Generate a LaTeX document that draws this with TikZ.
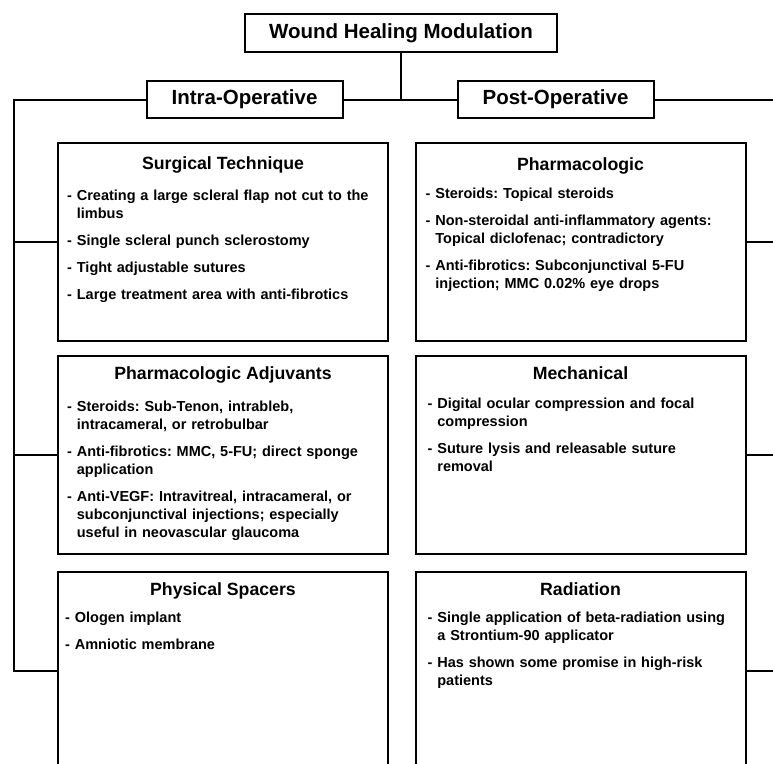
\documentclass[tikz,border=0pt]{standalone}
\usepackage{fontspec}
\setmainfont{Liberation Sans}
\usetikzlibrary{positioning}
\frenchspacing

\newlength{\dashwd}
\newcommand{\itm}[1]{\settowidth{\dashwd}{-~}\hangindent=\dashwd\hangafter=1\noindent-~#1\par}

\begin{document}
\begin{tikzpicture}[x=1pt,y=-1pt,
  top node/.style={draw,line width=2pt,inner sep=0pt,font=\bfseries\fontsize{20.5}{24}\selectfont},
  group node/.style={top node,minimum width=196pt,minimum height=37pt},
  box node/.style={draw,line width=2pt,minimum width=330pt,minimum height=198pt},
  head node/.style={anchor=base,inner sep=0pt,font=\bfseries\fontsize{17.7}{21}\selectfont},
  list node/.style={anchor=north west,inner sep=0pt,text width=315pt,
    font=\bfseries\fontsize{14.5}{18}\selectfont,
    execute at begin node={\setlength{\parskip}{9pt}\frenchspacing}},
  link/.style={line width=2pt}]

\useasboundingbox (0,0) rectangle (773,763);
\clip (0,0) rectangle (773,763);

% top of the tree
  \node[top node,minimum width=312pt,minimum height=38pt] (wound) at (401,33) {Wound Healing Modulation};
  \node[group node] (intra) at (244.5,99.5) {Intra-Operative};
  \node[group node] (post) at (555.5,99.5) {Post-Operative};

% intra-operative column
  \node[box node] (surg) at (223,242) {};
  \node[head node] (surgH) at ([yshift=-27pt]surg.north) {Surgical Technique};
  \node[list node] (surgL) at ([xshift=10pt,yshift=-48pt]surg.north west) {%
    \itm{Creating a large scleral flap not cut to the\newline limbus}
    \itm{Single scleral punch sclerostomy}
    \itm{Tight adjustable sutures}
    \itm{Large treatment area with anti-fibrotics}};

  \node[box node] (adj) at (223,454.5) {};
  \node[head node] (adjH) at ([yshift=-25pt]adj.north) {Pharmacologic Adjuvants};
  \node[list node] (adjL) at ([xshift=10pt,yshift=-46pt]adj.north west) {%
    \itm{Steroids: Sub-Tenon, intrableb,\newline intracameral, or retrobulbar}
    \itm{Anti-fibrotics: MMC, 5-FU; direct sponge\newline application}
    \itm{Anti-VEGF: Intravitreal, intracameral, or\newline subconjunctival injections; especially\newline useful in neovascular glaucoma}};

  \node[box node] (phys) at (223,671) {};
  \node[head node] (physH) at ([yshift=-24pt]phys.north) {Physical Spacers};
  \node[list node] (physL) at ([xshift=8pt,yshift=-41pt]phys.north west) {%
    \itm{Ologen implant}
    \itm{Amniotic membrane}};

% post-operative column
  \node[box node] (pharm) at (580.5,242) {};
  \node[head node] (pharmH) at ([yshift=-28pt]pharm.north) {Pharmacologic};
  \node[list node] (pharmL) at ([xshift=11pt,yshift=-46pt]pharm.north west) {%
    \itm{Steroids: Topical steroids}
    \itm{Non-steroidal anti-inflammatory agents:\newline Topical diclofenac; contradictory}
    \itm{Anti-fibrotics: Subconjunctival 5-FU\newline injection; MMC 0.02\% eye drops}};

  \node[box node] (mech) at (580.5,454.5) {};
  \node[head node] (mechH) at ([yshift=-25pt]mech.north) {Mechanical};
  \node[list node] (mechL) at ([xshift=13pt,yshift=-43pt]mech.north west) {%
    \itm{Digital ocular compression and focal\newline compression}
    \itm{Suture lysis and releasable suture\newline removal}};

  \node[box node] (rad) at (580.5,671) {};
  \node[head node] (radH) at ([yshift=-24pt]rad.north) {Radiation};
  \node[list node] (radL) at ([xshift=13pt,yshift=-41pt]rad.north west) {%
    \itm{Single application of beta-radiation using\newline a Strontium-90 applicator}
    \itm{Has shown some promise in high-risk\newline patients}};

% connectors
  \coordinate (jn) at (wound.south |- intra.east);
  \coordinate (lbus) at (14,671);
  \coordinate (rbus) at (776,671);

  \draw[link] (wound.south) -- (jn);
  \draw[link] (intra.east) -- (post.west);

  \draw[link] (intra.west) -| (lbus) -- (phys.west);
  \draw[link] (lbus |- surg.west) -- (surg.west);
  \draw[link] (lbus |- adj.west) -- (adj.west);

  \draw[link] (post.east) -| (rbus) -- (rad.east);
  \draw[link] (rbus |- pharm.east) -- (pharm.east);
  \draw[link] (rbus |- mech.east) -- (mech.east);

\end{tikzpicture}
\end{document}
